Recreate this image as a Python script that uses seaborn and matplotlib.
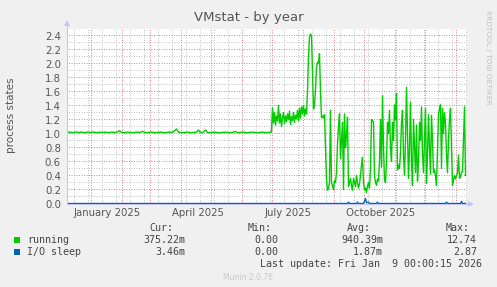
import numpy as np
import pandas as pd
import matplotlib
matplotlib.use("Agg")
import matplotlib.pyplot as plt
import matplotlib.dates as mdates
import matplotlib.ticker as mticker
from matplotlib.patches import Rectangle
import seaborn as sns

# ---------------- data ----------------
start_date = "2024-12-07"
end_date = "2026-01-11"

# running: day offsets from start_date and values
run_days = [0, 3, 6, 9, 12, 15, 18, 21, 24, 27, 30, 33, 36, 39, 42, 45, 48, 51, 53, 55,
            58, 61, 64, 67, 70, 73, 76, 79, 82, 85, 88, 91, 94, 97, 100, 103, 106, 108, 110, 112,
            115, 118, 121, 124, 127, 130, 132, 134, 136, 139, 141, 144, 147, 150, 153, 156, 159, 162, 165, 167,
            169, 171, 174, 177, 180, 183, 186, 189, 192, 195, 198, 201, 203, 205,
            206, 207, 208, 209, 210, 211, 212, 213, 214, 215, 216, 217, 218, 219, 220, 221, 222, 223, 224, 225,
            226, 227, 228, 229, 230, 231, 232, 233, 234, 235, 236, 237, 238, 239, 240, 241, 242, 243, 244, 245,
            246, 247, 248, 249, 250, 251, 252, 253, 254, 255, 256, 257, 258, 259, 260, 261, 262, 263, 264, 265,
            266, 267, 268, 269, 270, 271, 272, 273, 274, 275, 276, 277, 278, 279, 280, 281, 282, 283, 284, 285,
            286, 287, 288, 289, 290, 291, 292, 293, 294, 295, 296, 297, 298, 299, 300, 301, 302, 303, 304, 305,
            306, 307, 308, 309, 310, 311, 312, 313, 314, 315, 316, 317, 318, 319, 320, 321, 322, 323, 324, 325,
            326, 327, 328, 329, 330, 331, 332, 333, 334, 335, 336, 337, 338, 339, 340, 341, 342, 343, 344, 345,
            346, 347, 348, 349, 350, 351, 352, 353, 354, 355, 356, 357, 358, 359, 360, 361, 362, 363, 364, 365,
            366, 367, 368, 369, 370, 371, 372, 373, 374, 375, 376, 377, 378, 379, 380, 381, 382, 383, 384, 385,
            386, 387, 388, 389, 390, 391, 392, 393, 394, 395, 396, 397, 398, 399]
run_vals = [1.015, 1.02, 1.012, 1.022, 1.015, 1.02, 1.012, 1.02, 1.015, 1.022, 1.012, 1.02, 1.015, 1.02, 1.012, 1.02, 1.015, 1.022, 1.04, 1.015,
            1.012, 1.02, 1.015, 1.012, 1.02, 1.015, 1.03, 1.012, 1.015, 1.02, 1.012, 1.015, 1.02, 1.012, 1.015, 1.02, 1.015, 1.04, 1.065, 1.02,
            1.012, 1.015, 1.02, 1.012, 1.015, 1.02, 1.05, 1.015, 1.012, 1.05, 1.015, 1.012, 1.02, 1.015, 1.012, 1.015, 1.02, 1.012, 1.015, 1.02,
            1.03, 1.012, 1.015, 1.02, 1.012, 1.015, 1.02, 1.015, 1.012, 1.02, 1.015, 1.012, 1.02, 1.02,
            1.37, 1.15, 1.30, 1.12, 1.25, 1.18, 1.40, 1.15, 1.28, 1.10, 1.22, 1.30, 1.14, 1.25, 1.17, 1.28, 1.20, 1.32, 1.13, 1.24,
            1.18, 1.30, 1.16, 1.26, 1.21, 1.33, 1.18, 1.36, 1.22, 1.38, 1.28, 1.40, 1.25, 1.35, 1.28, 1.60, 2.10, 2.38, 2.42, 2.40,
            1.90, 1.35, 1.40, 1.62, 1.95, 2.02, 2.00, 2.14, 1.60, 1.23, 1.25, 1.22, 1.27, 0.80, 0.35, 0.19, 0.22, 0.30, 1.33, 0.30,
            0.25, 0.20, 0.33, 0.30, 0.45, 0.85, 1.10, 1.28, 0.64, 0.90, 1.16, 0.20, 1.28, 0.80, 0.97, 1.23, 0.24, 0.30, 0.36, 0.25,
            0.19, 0.36, 0.30, 0.24, 0.40, 0.30, 0.22, 0.28, 0.40, 0.55, 0.66, 0.30, 0.19, 0.22, 0.16, 0.25, 0.30, 0.22, 0.50, 1.20,
            1.18, 1.17, 0.40, 0.30, 0.26, 0.35, 0.32, 0.60, 1.20, 0.52, 1.54, 0.80, 0.34, 0.30, 0.60, 1.16, 1.00, 1.33, 0.80, 0.60,
            1.16, 0.90, 1.41, 1.20, 1.57, 0.48, 0.55, 0.50, 0.72, 1.16, 1.33, 0.70, 0.40, 0.90, 1.66, 1.00, 0.36, 0.80, 1.45, 0.60,
            0.26, 1.20, 0.80, 0.44, 1.12, 0.32, 0.60, 1.16, 0.90, 1.38, 0.70, 0.44, 0.90, 1.36, 0.29, 0.70, 1.27, 0.80, 0.42, 1.26,
            0.90, 0.44, 0.48, 0.40, 0.26, 0.80, 1.28, 1.35, 1.41, 0.50, 1.36, 1.00, 1.30, 1.14, 0.70, 0.44, 0.90, 1.20, 1.36, 0.80,
            0.26, 0.34, 0.40, 0.35, 0.40, 0.44, 0.69, 0.36, 0.38, 0.45, 0.45, 0.90, 1.38, 0.40]

# I/O sleep
io_days = [0, 281, 282, 283, 290, 291, 292, 297, 299, 300, 302, 303, 310, 311, 312, 379, 380, 381, 394, 395, 396, 399]
io_vals = [0.0, 0.0, 0.02, 0.0, 0.0, 0.02, 0.0, 0.0, 0.07, 0.01, 0.02, 0.0, 0.0, 0.02, 0.0, 0.0, 0.02, 0.0, 0.0, 0.03, 0.0, 0.0]

series_names = ["running", "I/O sleep"]
series_colors = ["#00CC00", "#0066B3"]
cur_vals = ["375.22m", "3.46m"]
min_vals = ["0.00", "0.00"]
avg_vals = ["940.39m", "1.87m"]
max_vals = ["12.74", "2.87"]
month_labels = ["January 2025", "April 2025", "July 2025", "October 2025"]
month_label_dates = ["2025-01-17", "2025-04-17", "2025-07-17", "2025-10-17"]
y_ticks = [0.0, 0.2, 0.4, 0.6, 0.8, 1.0, 1.2, 1.4, 1.6, 1.8, 2.0, 2.2, 2.4]
y_minor = [0.1, 0.3, 0.5, 0.7, 0.9, 1.1, 1.3, 1.5, 1.7, 1.9, 2.1, 2.3, 2.5]

# ---------------- figure ----------------
W, H = 497, 287
fig = plt.figure(figsize=(W / 100, H / 100), dpi=100, facecolor="#F0F0F0")

def fx(x):
    return x / W

def fy(y):
    return 1 - y / H

# half-pixel offsets so 1px grid lines fall on pixel centres
L, R, T, B = 66.5, 466.5, 28.5, 203.5
ax = fig.add_axes([fx(L), fy(B), (R - L) / W, (B - T) / H])
ax.set_facecolor("white")

t0 = pd.Timestamp(start_date)
df_run = pd.DataFrame({"date": t0 + pd.to_timedelta(run_days, unit="D"), "value": run_vals})
df_io = pd.DataFrame({"date": t0 + pd.to_timedelta(io_days, unit="D"), "value": io_vals})

ax.set_xlim(pd.Timestamp(start_date), pd.Timestamp(end_date))
ax.set_ylim(0, 2.5)

month_starts = pd.date_range("2025-01-01", end_date, freq="MS")
minor_dates = [d for d in pd.date_range("2024-12-15", end_date, freq="14D")
               if d not in set(month_starts)]
minor_kw = dict(color="#c6c6c6", linewidth=0.72, linestyle=(0, (1, 1.5)),
                snap=False, zorder=1)
major_kw = dict(color="#e88484", linewidth=0.72, linestyle=(0, (1, 1.5)),
                snap=False, zorder=1.5)
for d in minor_dates:
    ax.axvline(d, **minor_kw)
for v in y_minor:
    ax.axhline(v, **minor_kw)
for d in month_starts:
    ax.axvline(d, **major_kw)
for v in y_ticks[1:]:
    ax.axhline(v, **major_kw)

sns.lineplot(data=df_run, x="date", y="value", ax=ax, color=series_colors[0],
             linewidth=1.0, zorder=3)
sns.lineplot(data=df_io, x="date", y="value", ax=ax, color=series_colors[1],
             linewidth=1.0, zorder=4)

for s in ax.spines.values():
    s.set_visible(False)

ax.set_xlabel("")
ax.set_ylabel("")
ax.set_xticks([])
ax.yaxis.set_major_locator(mticker.FixedLocator(y_ticks))
ax.set_yticklabels([f"{v:.1f}" for v in y_ticks])
ax.tick_params(axis="y", which="major", labelsize=7.3, labelcolor="#555555",
               length=0, pad=4)

# month labels
trans = matplotlib.transforms.blended_transform_factory(ax.transData, ax.transAxes)
for lab, d in zip(month_labels, month_label_dates):
    ax.text(mdates.date2num(pd.Timestamp(d)), -0.055, lab, transform=trans,
            ha="center", va="center", fontsize=7.3, color="#555555")

# axes lines with arrows
axis_col = "#c4c4f4"
fig.add_artist(plt.Line2D([fx(L), fx(L)], [fy(B), fy(22)], color=axis_col, lw=0.72))
fig.add_artist(plt.Line2D([fx(L), fx(471)], [fy(B), fy(B)], color=axis_col, lw=0.72, zorder=0))
fig.add_artist(plt.Line2D([fx(L)], [fy(23)], marker="^", markersize=5, color=axis_col,
                          markeredgewidth=0))
fig.add_artist(plt.Line2D([fx(471)], [fy(B)], marker=">", markersize=5, color=axis_col,
                          markeredgewidth=0))

# texts
fig.text(fx(249), fy(18), "VMstat - by year", ha="center", va="center",
         fontsize=9.5, color="#555555")
fig.text(fx(11), fy(115), "process states", ha="center", va="center",
         rotation=90, fontsize=7.5, color="#555555")
fig.text(fx(488), fy(57), "RRDTOOL / TOBI OETIKER", ha="center", va="center",
         rotation=270, fontsize=5.3, color="#c0c0c0")
fig.text(fx(248), fy(277), "Munin 2.0.76", ha="center", va="center",
         fontsize=5.5, color="#c8c8c8")

mono = dict(family="DejaVu Sans Mono", fontsize=7.2, color="#444444", va="center")
for xr, hdr in zip([173, 272, 371, 470], ["Cur:", "Min:", "Avg:", "Max:"]):
    fig.text(fx(xr), fy(228), hdr, ha="right", **mono)
for i, name in enumerate(series_names):
    yy = 240 + 12 * i
    fig.add_artist(Rectangle((fx(14), fy(yy + 3)), 6 / W, 6 / H, transform=fig.transFigure,
                             facecolor=series_colors[i], edgecolor="none"))
    fig.text(fx(27), fy(yy), name, ha="left", **mono)
    for xr, v in zip([185, 278, 383, 477], [cur_vals[i], min_vals[i], avg_vals[i], max_vals[i]]):
        fig.text(fx(xr), fy(yy), v, ha="right", **mono)
fig.text(fx(482), fy(264), "Last update: Fri Jan  9 00:00:15 2026", ha="right", **mono)

fig.savefig("out.png", dpi=100, facecolor=fig.get_facecolor())
